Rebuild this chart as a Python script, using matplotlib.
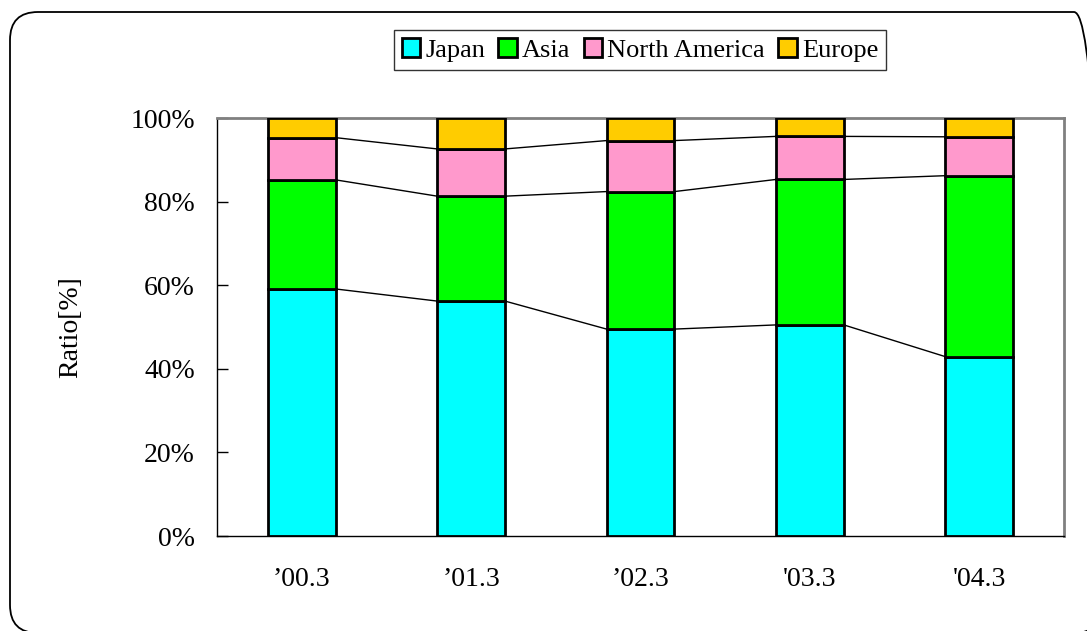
import matplotlib
matplotlib.use("Agg")
import matplotlib.pyplot as plt
import numpy as np
from matplotlib.patches import FancyBboxPatch

categories = ["\u201900.3", "\u201901.3", "\u201902.3", "'03.3", "'04.3"]
series = ["Japan", "Asia", "North America", "Europe"]
japan = [59.1, 56.2, 49.5, 50.5, 42.9]
asia = [26.1, 25.1, 32.9, 34.8, 43.3]
north_america = [10.1, 11.3, 12.2, 10.3, 9.3]
europe = [4.7, 7.4, 5.4, 4.4, 4.5]
colors = ["#00FFFF", "#00FF00", "#FF99CC", "#FFCC00"]
tick_labels = ["0%", "20%", "40%", "60%", "80%", "100%"]

plt.rcParams['font.family'] = ['Liberation Serif', 'DejaVu Serif']

W, H = 1087, 631
fig = plt.figure(figsize=(W / 100, H / 100), dpi=100)

# background axes in pixel units for the rounded frame
bg = fig.add_axes([0, 0, 1, 1], zorder=-1)
bg.set_xlim(0, W)
bg.set_ylim(0, H)
bg.set_aspect('equal', adjustable='datalim')
bg.axis('off')
frame = FancyBboxPatch((10, -2), 1092, 621,
                       boxstyle="round,pad=0,rounding_size=28",
                       fill=False, edgecolor="black", linewidth=1.3,
                       clip_on=False)
bg.add_patch(frame)

ax = fig.add_axes([217 / W, (H - 536) / H, (1064 - 217) / W, (536 - 118) / H])

data = [japan, asia, north_america, europe]
x = np.arange(len(categories))
width = 0.40
bottom = np.zeros(len(categories))
handles = []
for vals, col, name in zip(data, colors, series):
    v = np.array(vals)
    b = ax.bar(x, v, width, bottom=bottom, color=col, edgecolor="black",
               linewidth=2, label=name, zorder=3)
    handles.append(b)
    top = bottom + v
    if name != "Europe":
        for i in range(len(categories) - 1):
            ax.plot([x[i] + width / 2, x[i + 1] - width / 2], [top[i], top[i + 1]],
                    color="black", linewidth=1, zorder=2)
    bottom = top

ax.set_xlim(-0.5, len(categories) - 0.5)
ax.set_ylim(0, 100)
ax.set_yticks(np.arange(0, 101, 20))
ax.set_yticklabels(tick_labels, fontsize=20)
ax.set_xticks(x)
ax.set_xticklabels(categories, fontsize=20)
ax.tick_params(axis='y', direction='in', length=8, width=1, pad=16)
ax.tick_params(axis='x', length=0, pad=22)
for s in ['top', 'right']:
    ax.spines[s].set_color('#808080')
    ax.spines[s].set_linewidth(2)
for s in ['left', 'bottom']:
    ax.spines[s].set_color('black')
    ax.spines[s].set_linewidth(1)
ax.set_ylabel("Ratio[%]", fontsize=20, labelpad=34)

leg = fig.legend(handles=handles, labels=series, loc='center',
                 bbox_to_anchor=(640 / W, (H - 50) / H), ncol=4, fontsize=19,
                 frameon=True, fancybox=False, edgecolor='black',
                 handlelength=0.7, handleheight=0.7, handletextpad=0.2,
                 columnspacing=0.5, borderpad=0.3, borderaxespad=0)
leg.get_frame().set_linewidth(1)

fig.savefig("out.png", dpi=100)
